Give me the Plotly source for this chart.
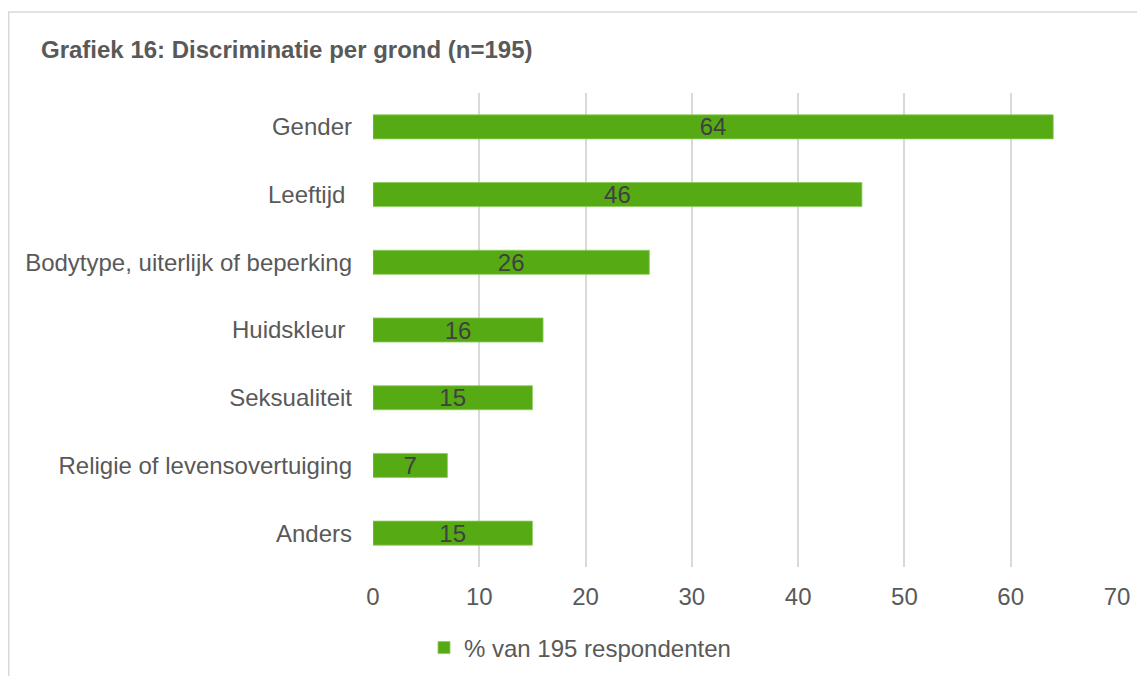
import plotly.graph_objects as go

categories = ["Gender", "Leeftijd\u00a0", "Bodytype, uiterlijk of beperking", "Huidskleur\u00a0",
              "Seksualiteit", "Religie of levensovertuiging", "Anders"]
values = [64, 46, 26, 16, 15, 7, 15]
series_name = "% van 195 respondenten"
title_text = "Grafiek 16: Discriminatie per grond (n=195)"
x_ticks = [0, 10, 20, 30, 40, 50, 60, 70]

# page body has an 8px margin, so the figure is sized to fit the window
W, H = 1137, 668
ml, mr, mt, mb = 365, 28, 85, 109
pw, ph = W - ml - mr, H - mt - mb

FONT = "Liberation Sans, Arial, sans-serif"
GREEN = "#56AB14"

fig = go.Figure()
fig.add_trace(go.Bar(
    y=categories, x=values, orientation="h", name=series_name,
    marker=dict(color=GREEN, line=dict(color="#8ccc5c", width=0.8)),
    text=[str(v) for v in values], textposition="inside", insidetextanchor="middle",
    constraintext="none", cliponaxis=False,
    textfont=dict(family=FONT, size=24, color="#404040"),
    textangle=0, hoverinfo="skip", showlegend=True,
))

def px_to_paper_x(px):
    return (px - ml) / pw

def px_to_paper_y(py):
    return (H - mb - py) / ph

fig.update_layout(
    width=W, height=H,
    margin=dict(l=ml, r=mr, t=mt, b=mb),
    paper_bgcolor="white", plot_bgcolor="white",
    font=dict(family=FONT, color="#595959", size=24),
    bargap=0.645,
    title=dict(text="<b>" + title_text + "</b>", x=33 / W, xanchor="left", xref="container",
               y=1 - 42 / H, yanchor="middle", yref="container",
               font=dict(family=FONT, size=24, color="#595959")),
    xaxis=dict(range=[0, 70], tickvals=x_ticks, showgrid=True, gridcolor="#d9d9d9", gridwidth=1.5,
               zeroline=False, showline=False, ticks="outside", ticklen=8, tickcolor="rgba(0,0,0,0)",
               tickfont=dict(family=FONT, size=24, color="#595959"), fixedrange=True),
    yaxis=dict(categoryorder="array", categoryarray=categories[::-1], showgrid=False,
               zeroline=False, showline=False, ticks="", ticklabelstandoff=20,
               tickfont=dict(family=FONT, size=24, color="#595959"), fixedrange=True),
    legend=dict(orientation="h", x=572 / W, xanchor="center", xref="container",
                y=1 - 640 / H, yanchor="middle", yref="container",
                font=dict(family=FONT, size=24, color="#595959"), itemwidth=30),
    shapes=[dict(type="rect", xref="paper", yref="paper",
                 x0=px_to_paper_x(0.75), x1=px_to_paper_x(W + 20),
                 y0=px_to_paper_y(H + 20), y1=px_to_paper_y(4),
                 line=dict(color="#d9d9d9", width=1.5), fillcolor="rgba(0,0,0,0)", layer="below")],
)
fig.write_html("out.html")
